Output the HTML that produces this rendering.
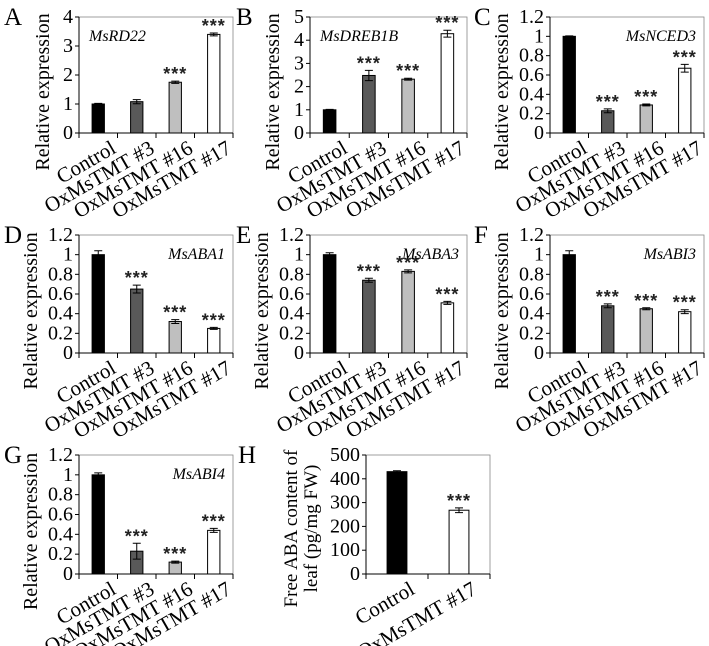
<!DOCTYPE html>
<html><head><meta charset="utf-8"><style>
body{margin:0;background:#fff;}
svg{display:block;font-family:"Liberation Serif",serif;}
</style></head><body>
<svg id="fig" width="709" height="646" viewBox="0 0 709 646" xmlns="http://www.w3.org/2000/svg"></svg>
<script>
const categories = ["Control","OxMsTMT #3","OxMsTMT #16","OxMsTMT #17"];
const catsH = ["Control","OxMsTMT #17"];
const valsA = [1.0,1.08,1.75,3.4];   const errA = [0.02,0.07,0.04,0.05]; const sigA=[0,0,1,1];
const valsB = [1.0,2.48,2.32,4.28];  const errB = [0.02,0.22,0.04,0.15]; const sigB=[0,1,1,1];
const valsC = [1.0,0.23,0.29,0.67];  const errC = [0.005,0.02,0.01,0.04]; const sigC=[0,1,1,1];
const valsD = [1.0,0.65,0.32,0.25];  const errD = [0.04,0.04,0.02,0.01]; const sigD=[0,1,1,1];
const valsE = [1.0,0.74,0.83,0.51];  const errE = [0.02,0.02,0.015,0.015]; const sigE=[0,1,1,1];
const valsF = [1.0,0.48,0.45,0.42];  const errF = [0.04,0.02,0.01,0.02]; const sigF=[0,1,1,1];
const valsG = [1.0,0.23,0.12,0.44];  const errG = [0.02,0.08,0.01,0.02]; const sigG=[0,1,1,1];
const valsH = [430,268];             const errH = [4,10]; const sigH=[0,1];
const ticks4 = ["0","1","2","3","4"];
const ticks5 = ["0","1","2","3","4","5"];
const ticks12 = ["0","0.2","0.4","0.6","0.8","1","1.2"];
const ticks500 = ["0","100","200","300","400","500"];

const NS="http://www.w3.org/2000/svg";
const svg=document.getElementById('fig');
function mk(tag,attrs,parent,txt){const e=document.createElementNS(NS,tag);for(const k in attrs)e.setAttribute(k,attrs[k]);if(txt!==undefined)e.textContent=txt;(parent||svg).appendChild(e);return e;}

const fills4=["#000","#595959","#bfbfbf","#fff"];
const fillsH=["#000","#fff"];

function panel(o){
  const g=mk('g',{});
  
  
  const L=o.x0,R=o.x1,T=o.y0,B=o.y1;
  const ymax=parseFloat(o.ticks[o.ticks.length-1]);
  const ys=v=>B-(v/ymax)*(B-T);
  const n=o.cats.length, cw=(R-L)/n;
  const xs=i=>L+cw*(i+0.5);
  const let_=mk('text',{x:o.lx,y:o.ly,'font-size':25},g,o.letter);
  
  
  const box=mk('rect',{x:L,y:T,width:R-L,height:B-T,fill:'none',stroke:'#888','stroke-width':0.8},g);
  
  
  o.vals.forEach((v,i)=>{
    const bw=cw*0.32;
    const r=mk('rect',{x:xs(i)-bw/2,y:ys(v),width:bw,height:B-ys(v),fill:o.fills[i],stroke:'#000','stroke-width':1},g);
    
    
    const e=o.errs[i], yt=ys(v+e), yb=ys(v-e), cx=xs(i);
    const eb=mk('path',{d:`M${cx},${yt}V${yb}M${cx-4},${yt}H${cx+4}M${cx-4},${yb}H${cx+4}`,stroke:'#000','stroke-width':1,fill:'none'},g);
    
    
    if(o.sig[i]){
      const s=mk('text',{x:cx,y:yt-1,'text-anchor':'middle','font-size':18,'font-weight':'bold','letter-spacing':'1','font-family':'"Liberation Sans",sans-serif',fill:'#222'},g,'***');
      
      
    }
  });
  const ax=mk('line',{x1:L,y1:B,x2:R,y2:B,stroke:'#000','stroke-width':1},g);
  
  
  const ay=mk('line',{x1:L,y1:T,x2:L,y2:B,stroke:'#000','stroke-width':1},g);
  
  
  for(let i=0;i<=n;i++){mk('line',{x1:L+cw*i,y1:B,x2:L+cw*i,y2:B+5,stroke:'#000'},g);}
  o.ticks.forEach(t=>{
    const y=ys(parseFloat(t));
    mk('line',{x1:L-4,y1:y,x2:L,y2:y,stroke:'#000'},g);
    const tl=mk('text',{x:L-6,y:y+6,'text-anchor':'end','font-size':20},g,t);
    
    
  });
  o.cats.forEach((c,i)=>{
    const x=xs(i)+19, y=B+19;
    const tl=mk('text',{x:x,y:y,'text-anchor':'end','font-size':21,transform:`rotate(-30 ${x} ${y})`},g,c);
    
    
  });
  if(o.ytitle2){
    const cy=(T+B)/2+14;
    const t1=mk('text',{x:o.tx,y:cy,'text-anchor':'middle','font-size':19,transform:`rotate(-90 ${o.tx} ${cy})`},g,o.ytitle);
    
    
    const t2=mk('text',{x:o.tx+20,y:cy,'text-anchor':'middle','font-size':19,transform:`rotate(-90 ${o.tx+20} ${cy})`},g,o.ytitle2);
    
    
  } else {
    const cy=(T+B)/2+17;
    const t1=mk('text',{x:o.tx,y:cy,'text-anchor':'middle','font-size':20,transform:`rotate(-90 ${o.tx} ${cy})`},g,o.ytitle);
    
    
  }
  if(o.gene){
    const gx=o.geneLeft?L+10:R-8;
    const gt=mk('text',{x:gx,y:T+24,'text-anchor':o.geneLeft?'start':'end','font-size':16,'font-style':'italic'},g,o.gene);
    
    
  }
}
const cols=[[79,233,4],[310,467,236],[550,704,474]];
const rows=[[17,133],[235,353],[455,574]];
const YT="Relative expression";
function P(letter,c,r,vals,errs,sig,ticks,gene,geneLeft,tx){
  panel({letter,x0:cols[c][0],x1:cols[c][1],y0:rows[r][0],y1:rows[r][1],lx:cols[c][2],ly:rows[r][0]+8,tx,
    cats:categories,fills:fills4,vals,errs,sig,ticks,ytitle:YT,gene,geneLeft});
}
P('A',0,0,valsA,errA,sigA,ticks4,'MsRD22',true,49);
P('B',1,0,valsB,errB,sigB,ticks5,'MsDREB1B',true,279);
P('C',2,0,valsC,errC,sigC,ticks12,'MsNCED3',false,508);
P('D',0,1,valsD,errD,sigD,ticks12,'MsABA1',false,37);
P('E',1,1,valsE,errE,sigE,ticks12,'MsABA3',false,268);
P('F',2,1,valsF,errF,sigF,ticks12,'MsABI3',false,508);
P('G',0,2,valsG,errG,sigG,ticks12,'MsABI4',false,37);
panel({letter:'H',x0:366,x1:490,y0:455,y1:574,lx:238,ly:463,tx:297,cats:catsH,fills:fillsH,vals:valsH,errs:errH,sig:sigH,ticks:ticks500,ytitle:"Free ABA content of",ytitle2:"leaf (pg/mg FW)"});
</script>
</body></html>
